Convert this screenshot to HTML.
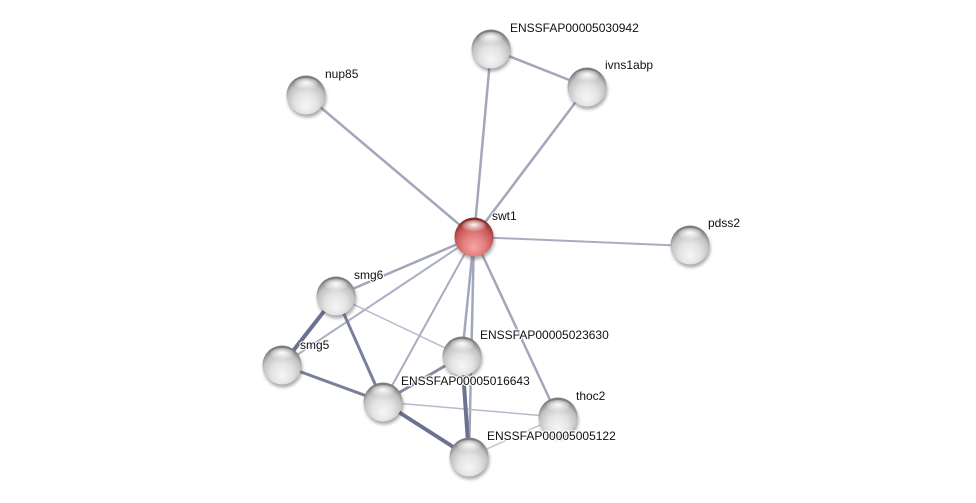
<!DOCTYPE html>
<html>
<head>
<meta charset="utf-8">
<style>
  html, body { margin: 0; padding: 0; background: #ffffff; }
  svg { display: block; }
  text { font-family: "Liberation Sans", Arial, sans-serif; font-size: 12px; fill: #111; paint-order: stroke; stroke: #ffffff; stroke-width: 2.5px; stroke-opacity: 0.85; }
</style>
</head>
<body>
<svg width="976" height="503" viewBox="0 0 976 503" xmlns="http://www.w3.org/2000/svg">
  <defs>
    <radialGradient id="gray" cx="50%" cy="65%" r="60%" fx="50%" fy="78%">
      <stop offset="0%" stop-color="#f6f6f6"/>
      <stop offset="45%" stop-color="#e4e4e4"/>
      <stop offset="80%" stop-color="#c2c2c2"/>
      <stop offset="100%" stop-color="#7e7e7e"/>
    </radialGradient>
    <radialGradient id="red" cx="50%" cy="65%" r="60%" fx="50%" fy="78%">
      <stop offset="0%" stop-color="#f5a6a6"/>
      <stop offset="45%" stop-color="#e38080"/>
      <stop offset="80%" stop-color="#c85656"/>
      <stop offset="100%" stop-color="#862e2e"/>
    </radialGradient>
    <radialGradient id="hl" cx="50%" cy="40%" r="60%">
      <stop offset="0%" stop-color="#ffffff" stop-opacity="0.95"/>
      <stop offset="100%" stop-color="#ffffff" stop-opacity="0"/>
    </radialGradient>
    <filter id="sh" x="-50%" y="-50%" width="200%" height="200%">
      <feGaussianBlur stdDeviation="1.6"/>
    </filter>
  </defs>

  <!-- edges -->
  <g fill="none" stroke-linecap="round">
    <line x1="474" y1="237" x2="491" y2="49" stroke="#a3a7bb" stroke-width="2.5"/>
    <line x1="474" y1="237" x2="587" y2="87" stroke="#a3a7bb" stroke-width="2.5"/>
    <line x1="474" y1="237" x2="306" y2="95" stroke="#a3a7bb" stroke-width="2.5"/>
    <line x1="474" y1="237" x2="690" y2="246" stroke="#a8acbf" stroke-width="2"/>
    <line x1="474" y1="237" x2="336" y2="296" stroke="#a3a7bb" stroke-width="2.5"/>
    <line x1="474" y1="237" x2="282" y2="365" stroke="#abafc2" stroke-width="2"/>
    <line x1="474" y1="237" x2="383" y2="402" stroke="#a8acbf" stroke-width="2"/>
    <line x1="474" y1="237" x2="462" y2="356" stroke="#a3a7bb" stroke-width="2.5"/>
    <line x1="474" y1="237" x2="469" y2="457" stroke="#a3a7bb" stroke-width="2.5"/>
    <line x1="474" y1="237" x2="558" y2="417" stroke="#a3a7bb" stroke-width="2.5"/>
    <line x1="491" y1="49" x2="587" y2="87" stroke="#a3a7bb" stroke-width="2.5"/>
    <line x1="336" y1="296" x2="462" y2="356" stroke="#b7bacb" stroke-width="1.5"/>
    <line x1="383" y1="402" x2="558" y2="417" stroke="#b7bacb" stroke-width="1.5"/>
    <line x1="558" y1="417" x2="469" y2="457" stroke="#c0c3d1" stroke-width="1.5"/>
    <line x1="336" y1="296" x2="383" y2="402" stroke="#7a7f9b" stroke-width="3"/>
    <line x1="282" y1="365" x2="383" y2="402" stroke="#7a7f9b" stroke-width="3"/>
    <line x1="383" y1="402" x2="462" y2="356" stroke="#868ba5" stroke-width="3"/>
    <line x1="336" y1="296" x2="282" y2="365" stroke="#6c7190" stroke-width="4"/>
    <line x1="383" y1="402" x2="469" y2="457" stroke="#6c7190" stroke-width="4"/>
    <line x1="462" y1="356" x2="469" y2="457" stroke="#6c7190" stroke-width="4"/>
  </g>

  <!-- nodes -->
  <g id="nodes">
    <circle cx="475" cy="240" r="19.5" fill="#444" opacity="0.45" filter="url(#sh)"/>
    <circle cx="474" cy="237" r="19.5" fill="url(#red)"/>
    <ellipse cx="474" cy="226" rx="12" ry="6" fill="url(#hl)"/>

    <circle cx="492" cy="52" r="19.5" fill="#444" opacity="0.45" filter="url(#sh)"/>
    <circle cx="491" cy="49" r="19.5" fill="url(#gray)"/>
    <ellipse cx="491" cy="38" rx="12" ry="6" fill="url(#hl)"/>

    <circle cx="588" cy="90" r="19.5" fill="#444" opacity="0.45" filter="url(#sh)"/>
    <circle cx="587" cy="87" r="19.5" fill="url(#gray)"/>
    <ellipse cx="587" cy="76" rx="12" ry="6" fill="url(#hl)"/>

    <circle cx="307" cy="98" r="19.5" fill="#444" opacity="0.45" filter="url(#sh)"/>
    <circle cx="306" cy="95" r="19.5" fill="url(#gray)"/>
    <ellipse cx="306" cy="84" rx="12" ry="6" fill="url(#hl)"/>

    <circle cx="691" cy="248" r="19.5" fill="#444" opacity="0.45" filter="url(#sh)"/>
    <circle cx="690" cy="245" r="19.5" fill="url(#gray)"/>
    <ellipse cx="690" cy="234" rx="12" ry="6" fill="url(#hl)"/>

    <circle cx="337" cy="299" r="19.5" fill="#444" opacity="0.45" filter="url(#sh)"/>
    <circle cx="336" cy="296" r="19.5" fill="url(#gray)"/>
    <ellipse cx="336" cy="285" rx="12" ry="6" fill="url(#hl)"/>

    <circle cx="283" cy="368" r="19.5" fill="#444" opacity="0.45" filter="url(#sh)"/>
    <circle cx="282" cy="365" r="19.5" fill="url(#gray)"/>
    <ellipse cx="282" cy="354" rx="12" ry="6" fill="url(#hl)"/>

    <circle cx="463" cy="359" r="19.5" fill="#444" opacity="0.45" filter="url(#sh)"/>
    <circle cx="462" cy="356" r="19.5" fill="url(#gray)"/>
    <ellipse cx="462" cy="345" rx="12" ry="6" fill="url(#hl)"/>

    <circle cx="384" cy="405" r="19.5" fill="#444" opacity="0.45" filter="url(#sh)"/>
    <circle cx="383" cy="402" r="19.5" fill="url(#gray)"/>
    <ellipse cx="383" cy="391" rx="12" ry="6" fill="url(#hl)"/>

    <circle cx="559" cy="420" r="19.5" fill="#444" opacity="0.45" filter="url(#sh)"/>
    <circle cx="558" cy="417" r="19.5" fill="url(#gray)"/>
    <ellipse cx="558" cy="406" rx="12" ry="6" fill="url(#hl)"/>

    <circle cx="470" cy="460" r="19.5" fill="#444" opacity="0.45" filter="url(#sh)"/>
    <circle cx="469" cy="457" r="19.5" fill="url(#gray)"/>
    <ellipse cx="469" cy="446" rx="12" ry="6" fill="url(#hl)"/>
  </g>

  <!-- labels -->
  <g>
    <text x="492" y="220">swt1</text>
    <text x="510" y="32">ENSSFAP00005030942</text>
    <text x="605" y="69">ivns1abp</text>
    <text x="325" y="78">nup85</text>
    <text x="708" y="227">pdss2</text>
    <text x="354" y="279">smg6</text>
    <text x="300" y="349">smg5</text>
    <text x="480" y="339">ENSSFAP00005023630</text>
    <text x="401" y="385">ENSSFAP00005016643</text>
    <text x="576" y="400">thoc2</text>
    <text x="487" y="440">ENSSFAP00005005122</text>
  </g>
</svg>
</body>
</html>
